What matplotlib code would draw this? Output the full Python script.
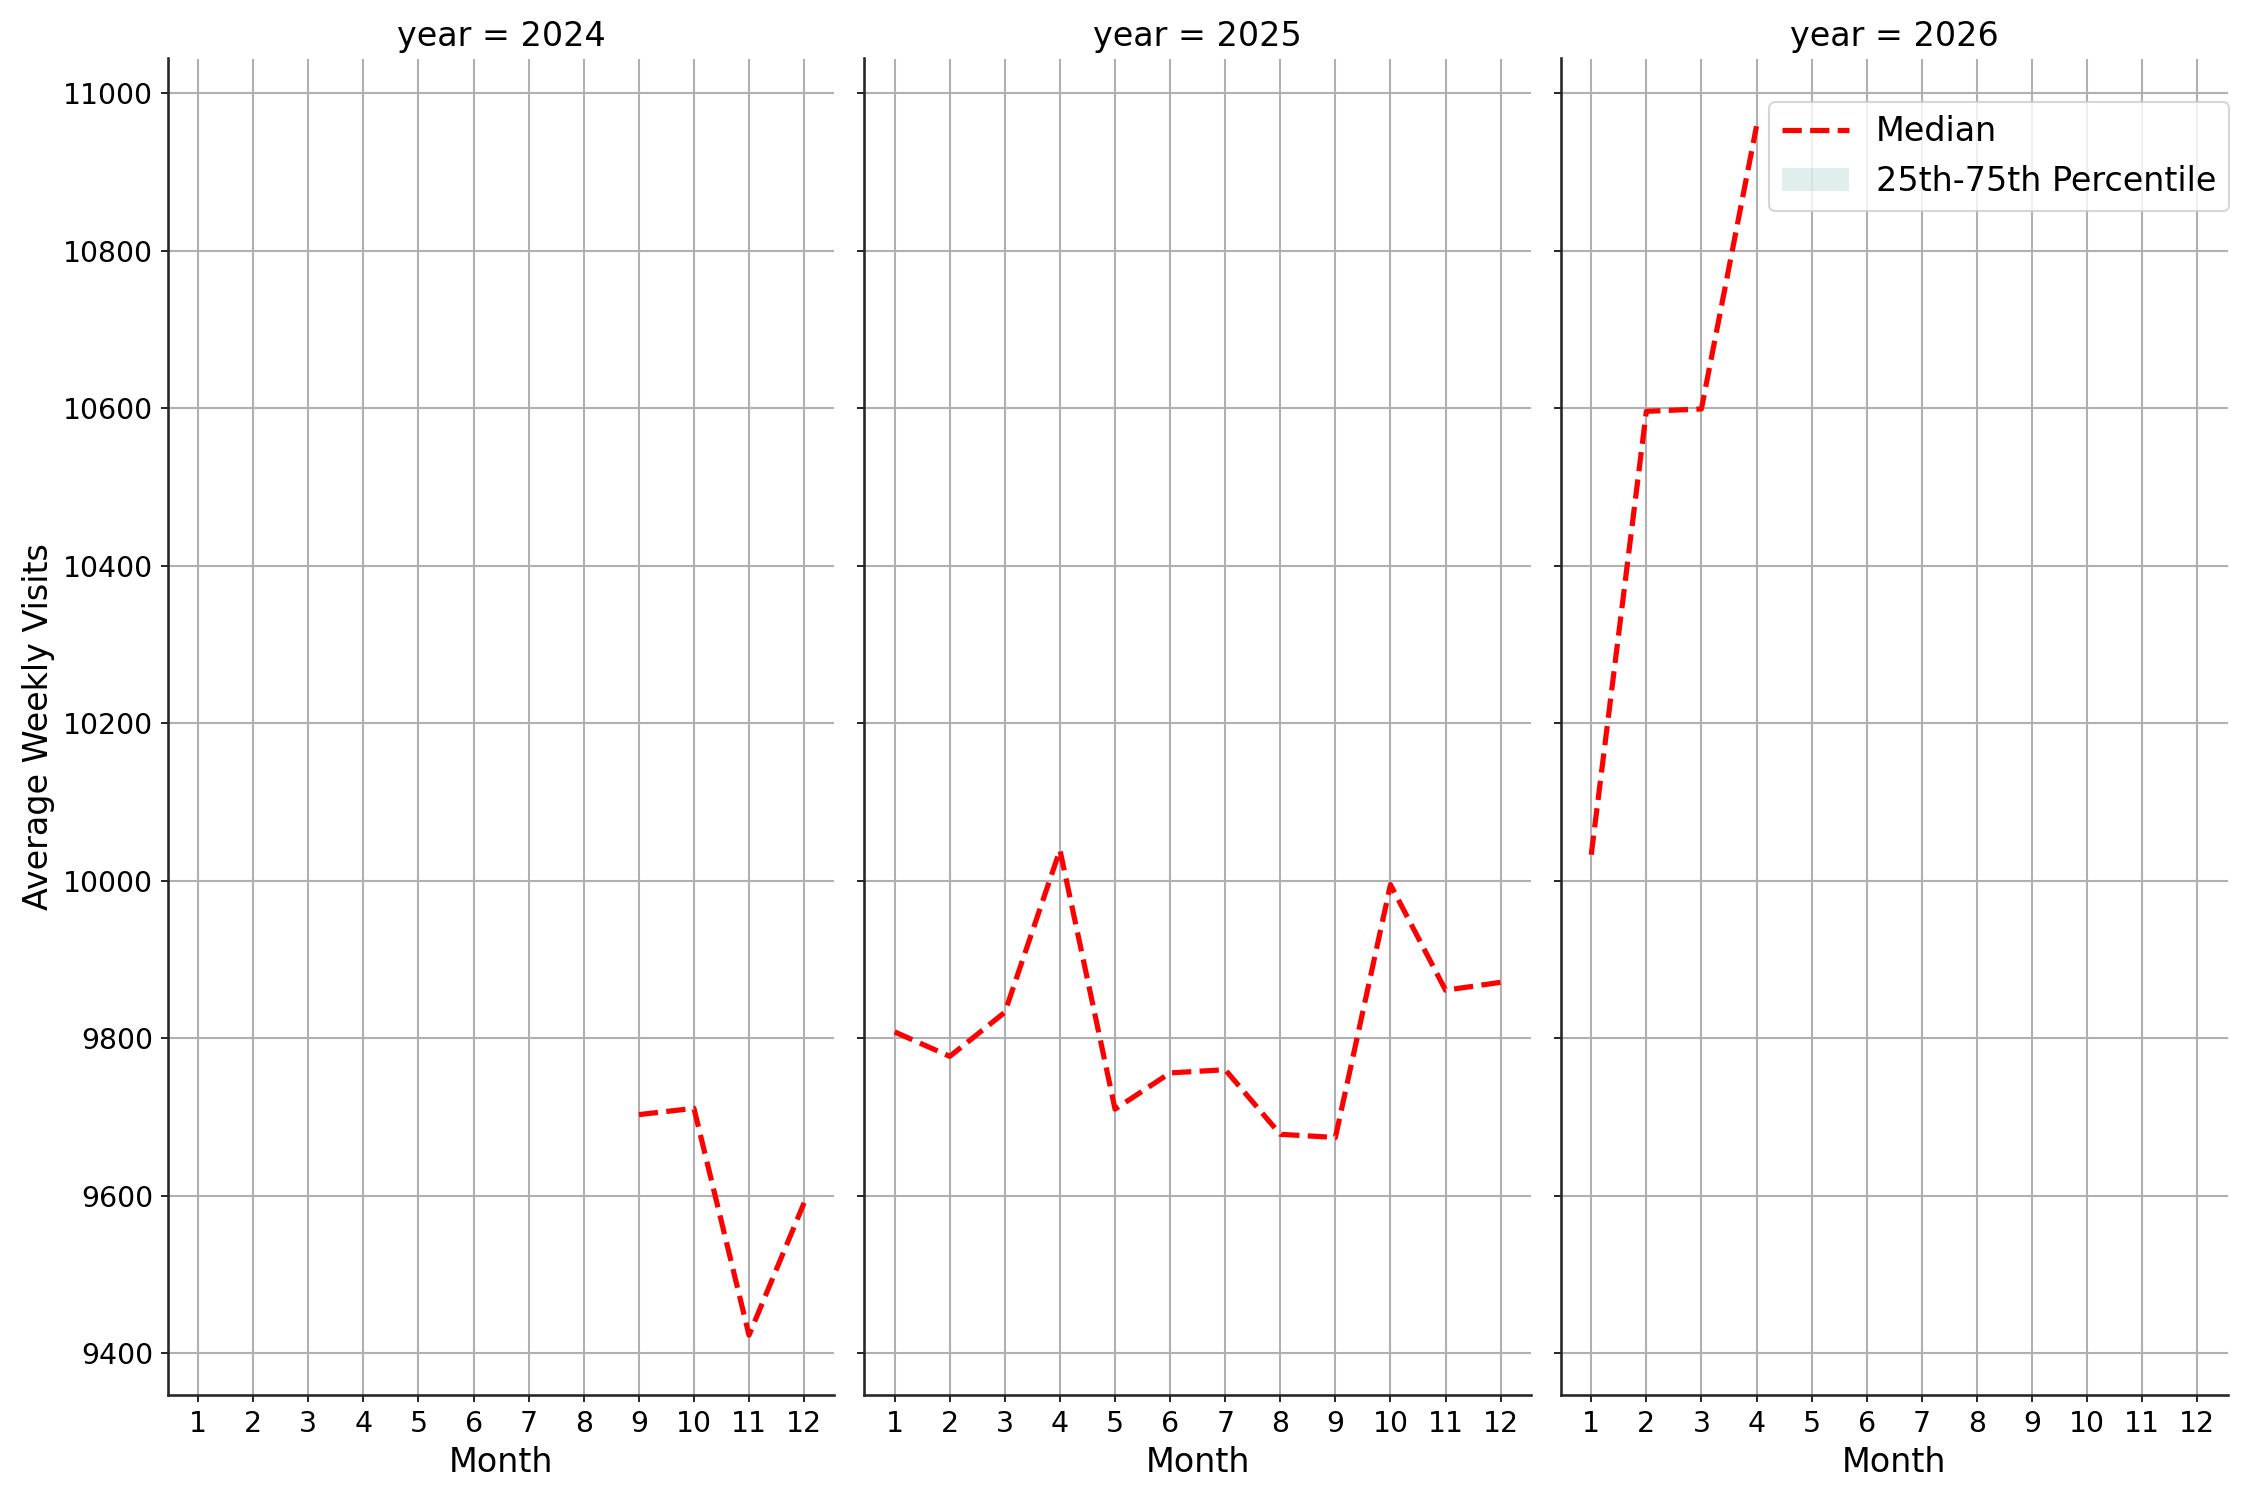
import matplotlib
matplotlib.use("Agg")
import matplotlib.pyplot as plt
from matplotlib.lines import Line2D
from matplotlib.patches import Patch
import numpy as np

years = [2024, 2025, 2026]
months_2024 = [9, 10, 11, 12]
median_2024 = [9703, 9711, 9423, 9591]
months_2025 = [1, 2, 3, 4, 5, 6, 7, 8, 9, 10, 11, 12]
median_2025 = [9808, 9777, 9833, 10039, 9710, 9756, 9760, 9678, 9674, 9995, 9861, 9871]
months_2026 = [1, 2, 3, 4]
median_2026 = [10033, 10596, 10599, 10958]

series = {2024: (months_2024, median_2024),
          2025: (months_2025, median_2025),
          2026: (months_2026, median_2026)}

month_ticks = list(range(1, 13))
y_ticks = [9400, 9600, 9800, 10000, 10200, 10400, 10600, 10800, 11000]

fig, axes = plt.subplots(1, 3, figsize=(15, 10), dpi=150, sharey=True, sharex=True)
fig.subplots_adjust(left=0.0746, right=0.99, top=0.961, bottom=0.070, wspace=0.045)

for ax, yr in zip(axes, years):
    m, v = series[yr]
    ax.plot(m, v, color="red", linestyle="--", linewidth=2.5)
    ax.set_title(f"year = {yr}", fontsize=16)
    ax.set_xlabel("Month", fontsize=16)
    ax.set_xticks(month_ticks)
    ax.set_yticks(y_ticks)
    ax.tick_params(labelsize=13.6)
    ax.grid(True, color="#b0b0b0", linewidth=1.0)
    ax.spines["top"].set_visible(False)
    ax.spines["right"].set_visible(False)
    for s in ("left", "bottom"):
        ax.spines[s].set_color("#262626")
        ax.spines[s].set_linewidth(1.25)

axes[0].set_xlim(0.45, 12.55)
axes[0].set_ylim(9347, 11044)
axes[0].set_ylabel("Average Weekly Visits", fontsize=16)

handles = [Line2D([0], [0], color="red", linestyle="--", linewidth=2.5),
           Patch(facecolor="#69b3a2", alpha=0.2, edgecolor="none")]
axes[2].legend(handles, ["Median", "25th-75th Percentile"], loc="upper right",
               bbox_to_anchor=(1.028, 0.98), fontsize=16)

fig.savefig("out.png", dpi=150)
